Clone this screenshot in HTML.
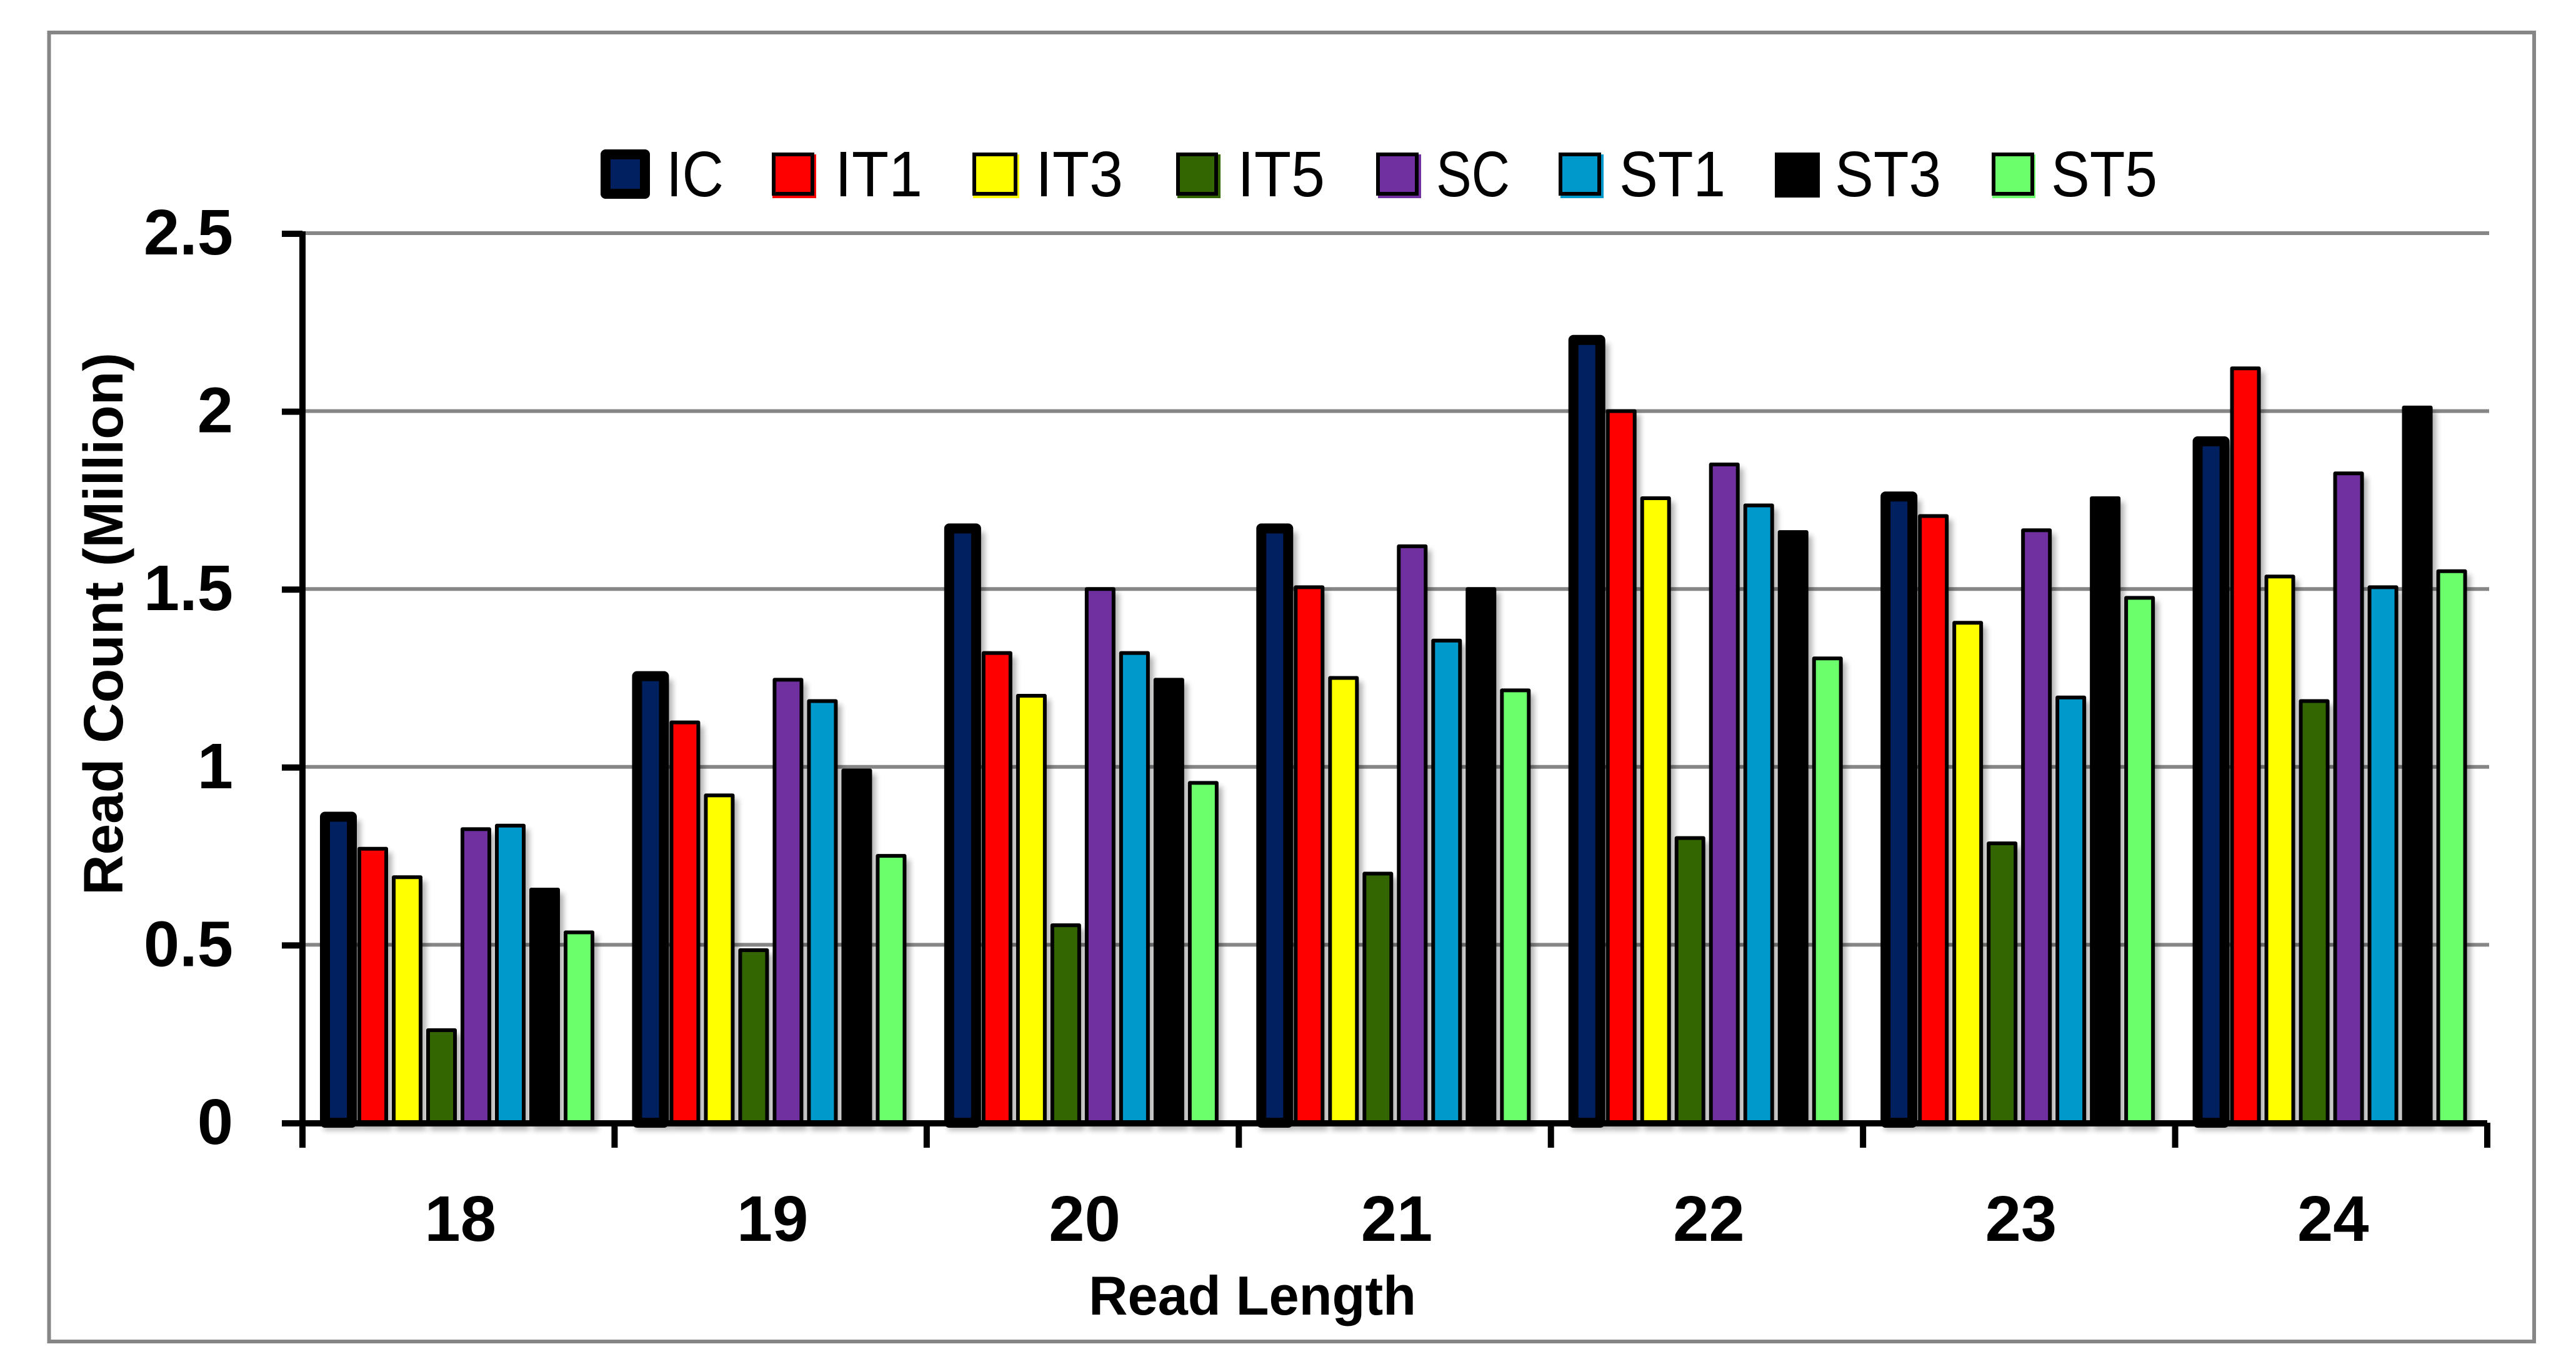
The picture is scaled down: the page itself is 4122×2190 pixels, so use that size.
<!DOCTYPE html>
<html lang="en">
<head>
<meta charset="utf-8">
<title>Read Count by Read Length</title>
<style>
html,body{margin:0;padding:0;background:#fff;}
svg{display:block;}
text{font-family:"Liberation Sans",sans-serif;fill:#000;}
.legend-label{font-size:103px;}
</style>
</head>
<body>
<svg id="chart" xmlns="http://www.w3.org/2000/svg" width="4122" height="2190" viewBox="0 0 4122 2190">
  <defs>
    <filter id="soft-shadow" x="-5%" y="-5%" width="110%" height="110%">
      <feGaussianBlur stdDeviation="4.5"/>
    </filter>
  </defs>
  <rect x="0" y="0" width="4122" height="2190" fill="#fff"/>
  <rect x="78.5" y="52" width="3976.5" height="2094" fill="none" stroke="#868686" stroke-width="6"/>
  <g id="grid"></g>
  <g id="shadows" filter="url(#soft-shadow)" opacity="0.3"></g>
  <g id="bars"></g>
  <g id="axes"></g>
  <g>
    <g>
      <rect x="969" y="247" width="63" height="63" fill="#002060" stroke="#000" stroke-width="16" stroke-linejoin="round"/>
      <text class="legend-label" x="1066" y="314" textLength="92" lengthAdjust="spacingAndGlyphs">IC</text>
    </g>
    <g>
      <rect x="1236" y="247" width="70" height="70" fill="#ff0000"/>
      <rect x="1238" y="247" width="62" height="63" fill="#ff0000" stroke="#000" stroke-width="6"/>
      <text class="legend-label" x="1336" y="314" textLength="140" lengthAdjust="spacingAndGlyphs">IT1</text>
    </g>
    <g>
      <rect x="1557" y="247" width="74" height="70" fill="#ffff00"/>
      <rect x="1559" y="247" width="66" height="63" fill="#ffff00" stroke="#000" stroke-width="6"/>
      <text class="legend-label" x="1657" y="314" textLength="140" lengthAdjust="spacingAndGlyphs">IT3</text>
    </g>
    <g>
      <rect x="1884" y="247" width="69" height="70" fill="#336600"/>
      <rect x="1885" y="247" width="61" height="63" fill="#336600" stroke="#000" stroke-width="6"/>
      <text class="legend-label" x="1980" y="314" textLength="140" lengthAdjust="spacingAndGlyphs">IT5</text>
    </g>
    <g>
      <rect x="2205" y="247" width="69" height="70" fill="#7030a0"/>
      <rect x="2205" y="247" width="62" height="63" fill="#7030a0" stroke="#000" stroke-width="6"/>
      <text class="legend-label" x="2298" y="314" textLength="118" lengthAdjust="spacingAndGlyphs">SC</text>
    </g>
    <g>
      <rect x="2497" y="247" width="69" height="70" fill="#0099cc"/>
      <rect x="2497" y="247" width="62" height="63" fill="#0099cc" stroke="#000" stroke-width="6"/>
      <text class="legend-label" x="2591" y="314" textLength="170" lengthAdjust="spacingAndGlyphs">ST1</text>
    </g>
    <g>
      <rect x="2840" y="244" width="72" height="72" fill="#000"/>
      <text class="legend-label" x="2936" y="314" textLength="170" lengthAdjust="spacingAndGlyphs">ST3</text>
    </g>
    <g>
      <rect x="3188" y="247" width="69" height="70" fill="#6cff6c"/>
      <rect x="3190" y="247" width="62" height="63" fill="#6cff6c" stroke="#000" stroke-width="6"/>
      <text class="legend-label" x="3282" y="314" textLength="170" lengthAdjust="spacingAndGlyphs">ST5</text>
    </g>
  </g>
  <text transform="translate(196,1432) rotate(-90)" font-size="89" font-weight="bold" textLength="868" lengthAdjust="spacingAndGlyphs">Read Count (Million)</text>
  <text x="1742" y="2103" font-size="88" font-weight="bold" textLength="524" lengthAdjust="spacingAndGlyphs">Read Length</text>
</svg>
<script>
// Chart data
const categories = ['18', '19', '20', '21', '22', '23', '24'];
const seriesNames = ['IC', 'IT1', 'IT3', 'IT5', 'SC', 'ST1', 'ST3', 'ST5'];
const seriesColors = ['#002060', '#ff0000', '#ffff00', '#336600', '#7030a0', '#0099cc', '#000000', '#6cff6c'];
const valuesIC  = [0.86, 1.255, 1.67, 1.67, 2.2, 1.76, 1.915];
const valuesIT1 = [0.77, 1.125, 1.32, 1.505, 2.0, 1.705, 2.12];
const valuesIT3 = [0.69, 0.92, 1.2, 1.25, 1.755, 1.405, 1.535];
const valuesIT5 = [0.26, 0.485, 0.555, 0.7, 0.8, 0.785, 1.185];
const valuesSC  = [0.825, 1.245, 1.5, 1.62, 1.85, 1.665, 1.825];
const valuesST1 = [0.835, 1.185, 1.32, 1.355, 1.735, 1.195, 1.505];
const valuesST3 = [0.655, 0.99, 1.245, 1.5, 1.66, 1.755, 2.01];
const valuesST5 = [0.535, 0.75, 0.955, 1.215, 1.305, 1.475, 1.55];
const allSeries = [valuesIC, valuesIT1, valuesIT3, valuesIT5, valuesSC, valuesST1, valuesST3, valuesST5];
const yTickValues = [0, 0.5, 1, 1.5, 2, 2.5];
const yTickLabels = ['0', '0.5', '1', '1.5', '2', '2.5'];

// Axis functions
const plotLeft = 484, plotRight = 3980, plotBottom = 1796, plotTop = 373, yMax = 2.5;
const groupWidth = (plotRight - plotLeft) / categories.length;
const barPitch = 55, firstBarOffset = 57.5, barWidth = 43;
function yScale(v) { return plotBottom - (v / yMax) * (plotBottom - plotTop); }
function groupX(i) { return plotLeft + i * groupWidth; }
function barCenter(g, s) { return groupX(g) + firstBarOffset + s * barPitch; }

const NS = 'http://www.w3.org/2000/svg';
function make(tag, parent, attrs) {
  const el = document.createElementNS(NS, tag);
  for (const k in attrs) el.setAttribute(k, attrs[k]);
  parent.appendChild(el);
  return el;
}
const grid = document.getElementById('grid');
const shadows = document.getElementById('shadows');
const bars = document.getElementById('bars');
const axes = document.getElementById('axes');

yTickValues.forEach(function (v, i) {
  if (v > 0) {
    const line = make('line', grid, { x1: plotLeft, x2: plotRight + 3, y1: yScale(v), y2: yScale(v), stroke: '#868686', 'stroke-width': 6 });
    
    
  }
});

allSeries.forEach(function (vals, s) {
  const heavy = s === 0;
  const sw = heavy ? 16 : 6;
  vals.forEach(function (v, g) {
    const cx = barCenter(g, s);
    const top = yScale(v);
    const sh = make('rect', shadows, { x: cx - barWidth / 2 - sw / 2 + 6, y: top + 6, width: barWidth + sw, height: plotBottom - top + 6, fill: '#000' });
    
    
    const r = make('rect', bars, { x: cx - barWidth / 2, y: top, width: barWidth, height: plotBottom - top, fill: seriesColors[s], stroke: '#000', 'stroke-width': sw, 'stroke-linejoin': 'round' });
    
    
  });
});

const yAxisLine = make('rect', axes, { x: plotLeft - 5, y: plotTop - 3, width: 10, height: plotBottom - plotTop + 9, fill: '#000' });


const xAxisLine = make('rect', axes, { x: plotLeft - 33, y: plotBottom - 4, width: plotRight - plotLeft + 33, height: 10, fill: '#000' });



yTickValues.forEach(function (v, i) {
  const tick = make('rect', axes, { x: plotLeft - 33, y: yScale(v) - 4, width: 33, height: 10, fill: '#000' });
  
  
  const label = make('text', axes, { x: 373, y: yScale(v) + 34, 'font-size': 103, 'font-weight': 'bold', 'text-anchor': 'end' });
  label.textContent = yTickLabels[i];
  
  
});

for (let i = 0; i <= categories.length; i++) {
  const tick = make('rect', axes, { x: groupX(i) - 5, y: plotBottom, width: 10, height: 40, fill: '#000' });
  
  
}
categories.forEach(function (c, i) {
  const label = make('text', axes, { x: groupX(i) + groupWidth / 2 + 3, y: 1985, 'font-size': 103, 'font-weight': 'bold', 'text-anchor': 'middle' });
  label.textContent = c;
  
  
});
</script>
</body>
</html>
